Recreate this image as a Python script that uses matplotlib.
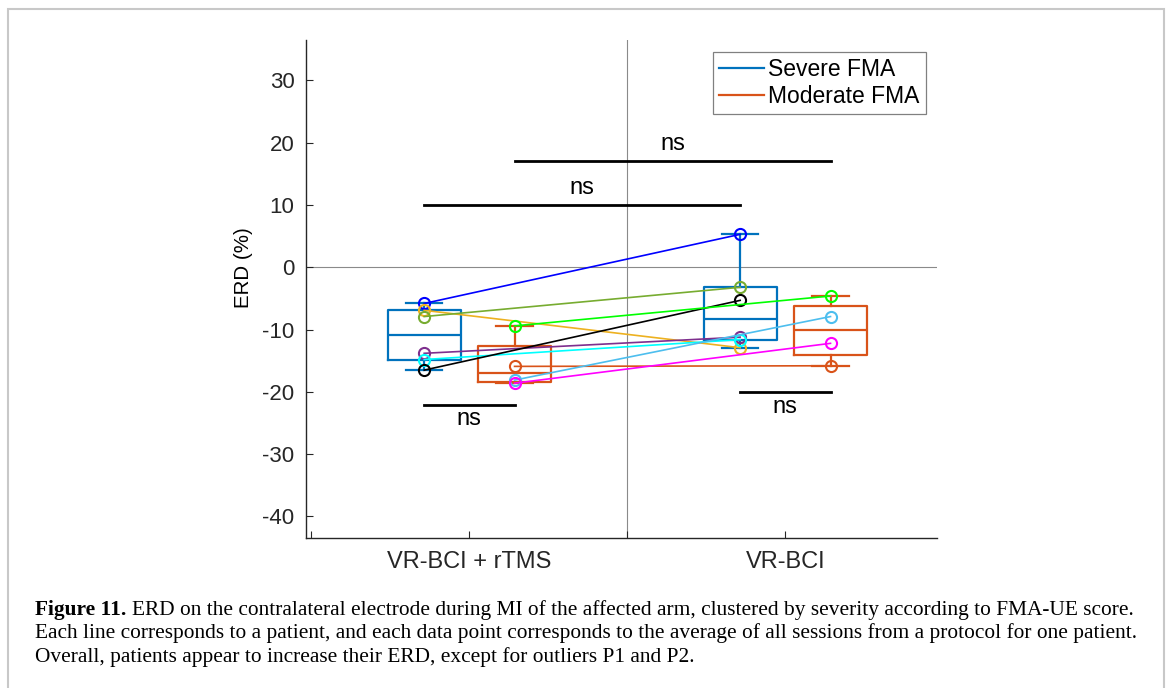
import numpy as np
import matplotlib
matplotlib.use('Agg')
import matplotlib.pyplot as plt
from matplotlib.lines import Line2D
from matplotlib.patches import Rectangle

plt.rcParams['font.family'] = ['Liberation Sans', 'DejaVu Sans']
plt.rcParams['axes.unicode_minus'] = False

# data
protocols = ['VR-BCI + rTMS', 'VR-BCI']
groups = ['Severe FMA', 'Moderate FMA']
box_colors = ['#0072BD', '#D95319']

severe_colors = ['#0000FF', '#EDB120', '#77AC30', '#7E2F8E', '#00FFFF', '#000000']
severe_rtms = [-5.8, -6.9, -7.9, -13.8, -14.8, -16.5]
severe_bci = [5.3, -12.9, -3.2, -11.2, -11.6, -5.3]

moderate_colors = ['#00FF00', '#D95319', '#4DBEEE', '#FF00FF']
moderate_rtms = [-9.4, -15.9, -18.1, -18.6]
moderate_bci = [-4.6, -15.8, -7.9, -12.2]

yticks = [30, 20, 10, 0, -10, -20, -30, -40]

caption = [
    'ERD on the contralateral electrode during MI of the affected arm, clustered by severity according to FMA-UE score.',
    'Each line corresponds to a patient, and each data point corresponds to the average of all sessions from a protocol for one patient.',
    'Overall, patients appear to increase their ERD, except for outliers P1 and P2.',
]


def box_stats(vals):
    v = np.asarray(vals, dtype=float)
    q1, med, q3 = np.percentile(v, [25, 50, 75], method='hazen')
    return dict(med=med, q1=q1, q3=q3, whislo=v.min(), whishi=v.max(), fliers=[])


W, H = 1170, 688
fig = plt.figure(figsize=(W / 100, H / 100), dpi=100)
ax = fig.add_axes([305.7 / W, 1 - 538.3 / H, (937 - 305.7) / W, (538.3 - 40) / H])

off, bw = 0.143, 0.231
x_pos = np.arange(1, len(protocols) + 1)
fs = 17

ax.axhline(0, color='#8a8a8a', lw=0.8, zorder=1)
ax.axvline(1.5, color='#8a8a8a', lw=0.8, zorder=1)

series = [(severe_rtms, severe_bci), (moderate_rtms, moderate_bci)]
for g, (a, b) in enumerate(series):
    c = box_colors[g]
    pos = x_pos + (-off if g == 0 else off)
    stats = [box_stats(a), box_stats(b)]
    lp = dict(color=c, linewidth=1.6)
    ax.bxp(stats, positions=pos, widths=bw, showfliers=False,
           boxprops=lp, medianprops=lp, whiskerprops=lp, capprops=lp,
           manage_ticks=False, zorder=2)

for g, (a, b), cols in [(0, series[0], severe_colors), (1, series[1], moderate_colors)]:
    pos = x_pos + (-off if g == 0 else off)
    for va, vb, c in zip(a, b, cols):
        ax.plot(pos, [va, vb], color=c, lw=1.2, marker='o', ms=8,
                mfc='none', mec=c, mew=1.5, zorder=3)

# significance bars
sig = [
    (1 - off, 2 - off, 10.0, 12.8),
    (1 + off, 2 + off, 17.0, 19.8),
    (1 - off, 1 + off, -22.1, -24.3),
    (2 - off, 2 + off, -20.0, -22.4),
]
for x0, x1, yb, yt in sig:
    ax.plot([x0, x1], [yb, yb], color='k', lw=2.0, zorder=3)
    ax.text((x0 + x1) / 2, yt, 'ns', ha='center', va='center', fontsize=fs)

ax.set_xlim(0.482, 2.48)
ax.set_ylim(-43.5, 36.5)
ax.set_xticks([0.5, 1, 1.5, 2])
ax.set_xticklabels([''] + [protocols[0]] + [''] + [protocols[1]], fontsize=fs)
ax.set_yticks(yticks)
ax.set_yticklabels([str(v) for v in yticks], fontsize=16)
ax.tick_params(direction='in', length=4.8, width=0.8, colors='#262626', pad=8)
ax.tick_params(axis='x', pad=9)
for s in ['top', 'right']:
    ax.spines[s].set_visible(False)
for s in ['left', 'bottom']:
    ax.spines[s].set_color('#262626')
    ax.spines[s].set_linewidth(1.0)
ax.set_ylabel('ERD (%)', fontsize=14.8)
ax.yaxis.set_label_coords(-0.083, 0.544)

handles = [Line2D([], [], color=box_colors[i], lw=1.6) for i in range(2)]
leg = ax.legend(handles, groups, loc='upper right',
                bbox_to_anchor=(926 / W, 1 - 51.7 / H), bbox_transform=fig.transFigure,
                borderaxespad=0, fancybox=False, edgecolor='#808080', framealpha=1,
                fontsize=16.5, handlelength=1.95, handletextpad=0.2, labelspacing=0.15,
                borderpad=0.28)
leg.get_frame().set_linewidth(0.9)

# outer frame
fig.patches.append(Rectangle((7.5 / W, -0.05), (1163.5 - 7.5) / W, 1 - 8.5 / H + 0.05,
                             transform=fig.transFigure, fill=False,
                             edgecolor='#c8c8c8', lw=1.5))

# caption
renderer = fig.canvas.get_renderer()
serif = ['Liberation Serif', 'DejaVu Serif']
size = 13
t2 = fig.text(35 / W, 1 - 638.3 / H, caption[1], fontsize=size, family=serif, va='baseline')
w = t2.get_window_extent(renderer).width
size = size * 1092 / w
t2.set_fontsize(size)
tb = fig.text(35 / W, 1 - 615 / H, 'Figure 11.', fontsize=size, family=serif,
              weight='bold', va='baseline')
bx = tb.get_window_extent(renderer).x1
fig.text((bx + 0.25 * size * 100 / 72) / W, 1 - 615 / H, caption[0], fontsize=size,
         family=serif, va='baseline')
fig.text(35 / W, 1 - 661.7 / H, caption[2], fontsize=size, family=serif, va='baseline')

fig.savefig('out.png', dpi=100)
